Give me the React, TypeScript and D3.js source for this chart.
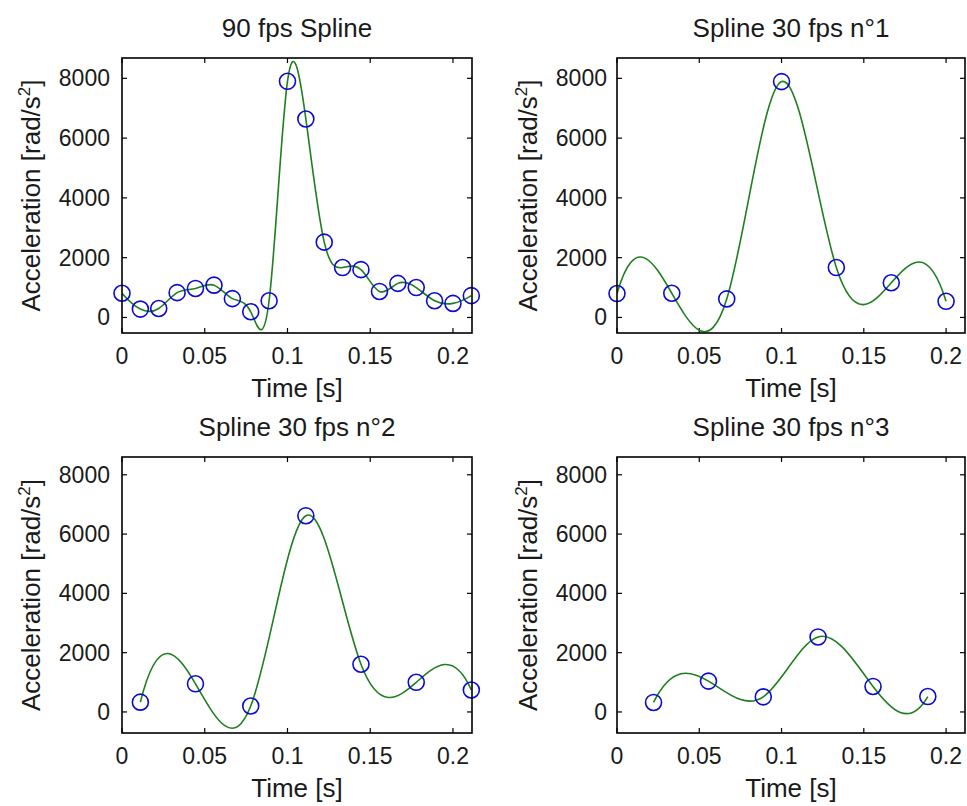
import React from 'react';
import * as d3 from 'd3';

// sample times [s] and accelerations [rad/s²]
const time90 = [0, 0.0111, 0.0222, 0.0333, 0.0444, 0.0556, 0.0667, 0.0778, 0.0889, 0.1, 0.1111, 0.1222, 0.1333, 0.1444, 0.1556, 0.1667, 0.1778, 0.1889, 0.2, 0.2111];
const acc90 = [810, 280, 300, 830, 970, 1080, 630, 190, 560, 7900, 6640, 2520, 1670, 1600, 870, 1140, 1000, 560, 470, 730];

const time30a = [0, 0.0333, 0.0667, 0.1, 0.1333, 0.1667, 0.2];
const acc30a = [800, 810, 620, 7890, 1670, 1160, 540];

const time30b = [0.0111, 0.0444, 0.0778, 0.1111, 0.1444, 0.1778, 0.2111];
const acc30b = [330, 950, 200, 6620, 1610, 1000, 740];

const time30c = [0.0222, 0.0556, 0.0889, 0.1222, 0.1556, 0.1889];
const acc30c = [320, 1040, 510, 2530, 860, 520];

const xTicks = [0, 0.05, 0.1, 0.15, 0.2];
const xTickLabels = ['0', '0.05', '0.1', '0.15', '0.2'];
const yTicks = [0, 2000, 4000, 6000, 8000];
const yTickLabels = ['0', '2000', '4000', '6000', '8000'];

const FONT = '"Liberation Sans", Arial, sans-serif';
const INK = '#1a1a1a';

// d3 curve: cubic spline with "not-a-knot" end conditions (like MATLAB's spline),
// drawn as exact bezier segments
class NotAKnot {
  _ctx: any;
  _x: number[] = [];
  _y: number[] = [];
  _line = NaN;
  constructor(ctx: any) { this._ctx = ctx; }
  areaStart() { this._line = 0; }
  areaEnd() { this._line = NaN; }
  lineStart() { this._x = []; this._y = []; }
  point(x: number, y: number) { this._x.push(+x); this._y.push(+y); }
  lineEnd() {
    const x = this._x, y = this._y, n = x.length, ctx = this._ctx;
    if (!n) return;
    ctx.moveTo(x[0], y[0]);
    if (n < 4) {
      for (let i = 1; i < n; i++) ctx.lineTo(x[i], y[i]);
      return;
    }
    const h: number[] = [], d: number[] = [];
    for (let i = 0; i < n - 1; i++) {
      h.push(x[i + 1] - x[i]);
      d.push((y[i + 1] - y[i]) / h[i]);
    }
    const a = new Array(n).fill(0), b = new Array(n).fill(0), c = new Array(n).fill(0), r = new Array(n).fill(0);
    const x31 = x[2] - x[0], xn = x[n - 1] - x[n - 3];
    b[0] = h[1]; c[0] = x31;
    r[0] = ((h[0] + 2 * x31) * h[1] * d[0] + h[0] * h[0] * d[1]) / x31;
    for (let i = 1; i < n - 1; i++) {
      a[i] = h[i]; b[i] = 2 * (h[i] + h[i - 1]); c[i] = h[i - 1];
      r[i] = 3 * (h[i] * d[i - 1] + h[i - 1] * d[i]);
    }
    a[n - 1] = xn; b[n - 1] = h[n - 3];
    r[n - 1] = (h[n - 2] * h[n - 2] * d[n - 3] + (2 * xn + h[n - 2]) * h[n - 3] * d[n - 2]) / xn;
    // thomas algorithm
    for (let i = 1; i < n; i++) {
      const m = a[i] / b[i - 1];
      b[i] -= m * c[i - 1];
      r[i] -= m * r[i - 1];
    }
    const s = new Array(n).fill(0);
    s[n - 1] = r[n - 1] / b[n - 1];
    for (let i = n - 2; i >= 0; i--) s[i] = (r[i] - c[i] * s[i + 1]) / b[i];
    for (let i = 0; i < n - 1; i++) {
      const k = h[i] / 3;
      ctx.bezierCurveTo(x[i] + k, y[i] + s[i] * k, x[i + 1] - k, y[i + 1] - s[i + 1] * k, x[i + 1], y[i + 1]);
    }
  }
}
const curveNotAKnot = (ctx: any) => new NotAKnot(ctx);

type PanelProps = {
  id: string;
  title: string;
  times: number[];
  values: number[];
  left: number;
  top: number;
  width: number;
  height: number;
  yDomain: [number, number];
  labelGap: number;
};

const Panel = ({ id, title, times, values, left, top, width, height, yDomain, labelGap }: PanelProps) => {
  const x = d3.scaleLinear().domain([0, 0.2115]).range([0, width]);
  const y = d3.scaleLinear().domain(yDomain).range([height, 0]);
  const pts = times.map((t, i) => [t, values[i]] as [number, number]);

  const line = d3.line<[number, number]>()
    .x(d => x(d[0]))
    .y(d => y(d[1]))
    .curve(curveNotAKnot as any);

  const tick = 5;

  return (
    <g transform={`translate(${left},${top})`}>
      <defs>
        <clipPath id={`clip-${id}`}>
          <rect x={0} y={0} width={width} height={height} />
        </clipPath>
      </defs>

      {/* ticks inside the box on every side */}
      {xTicks.map(t => (
        <g key={`xt${t}`} stroke="#000" strokeWidth={1.2}>
          <line x1={x(t)} x2={x(t)} y1={height} y2={height - tick} />
          <line x1={x(t)} x2={x(t)} y1={0} y2={tick} />
        </g>
      ))}
      {yTicks.map(t => (
        <g key={`yt${t}`} stroke="#000" strokeWidth={1.2}>
          <line x1={0} x2={tick} y1={y(t)} y2={y(t)} />
          <line x1={width} x2={width - tick} y1={y(t)} y2={y(t)} />
        </g>
      ))}

      <path
        d={line(pts) || ''}
        fill="none"
        stroke="#1f7f1f"
        strokeWidth={1.6}
        clipPath={`url(#clip-${id})`}
      />

      {pts.map((d, i) => (
        <circle key={i} cx={x(d[0])} cy={y(d[1])} r={8} fill="none" stroke="#0a0ad0" strokeWidth={1.6} />
      ))}

      <rect x={0} y={0} width={width} height={height} fill="none" stroke="#000" strokeWidth={1.6} />

      {xTicks.map((t, i) => (
        <text key={`xl${t}`} x={x(t)} y={height + 31} textAnchor="middle" fontSize={23} fill={INK} fontFamily={FONT}>
          {xTickLabels[i]}
        </text>
      ))}
      {yTicks.map((t, i) => (
        <text key={`yl${t}`} x={-labelGap} y={y(t) + 8} textAnchor="end" fontSize={23} fill={INK} fontFamily={FONT}>
          {yTickLabels[i]}
        </text>
      ))}

      <text x={width / 2} y={-21} textAnchor="middle" fontSize={26} fill={INK} fontFamily={FONT}>
        {title}
      </text>
      <text x={width / 2} y={height + 64} textAnchor="middle" fontSize={26} fill={INK} fontFamily={FONT}>
        Time [s]
      </text>
      <text
        transform={`translate(${-labelGap - 70},${height / 2}) rotate(-90)`}
        textAnchor="middle"
        fontSize={26}
        fill={INK}
        fontFamily={FONT}
      >
        Acceleration [rad/s<tspan dy={-10} fontSize={17}>2</tspan><tspan dy={10}>]</tspan>
      </text>
    </g>
  );
};

export default function App() {
  const topDomain: [number, number] = [-520, 8680];
  const bottomDomain: [number, number] = [-710, 8600];
  return (
    <svg width={967} height={806} style={{ position: 'absolute', left: 0, top: 0, background: '#fff' }}>
      <Panel id="a" title="90 fps Spline" times={time90} values={acc90}
        left={122} top={58} width={350} height={275} yDomain={topDomain} labelGap={12} />
      <Panel id="b" title="Spline 30 fps n°1" times={time30a} values={acc30a}
        left={617} top={58} width={348} height={275} yDomain={topDomain} labelGap={10} />
      <Panel id="c" title="Spline 30 fps n°2" times={time30b} values={acc30b}
        left={122} top={457} width={350} height={276} yDomain={bottomDomain} labelGap={12} />
      <Panel id="d" title="Spline 30 fps n°3" times={time30c} values={acc30c}
        left={617} top={457} width={348} height={276} yDomain={bottomDomain} labelGap={10} />
    </svg>
  );
}
